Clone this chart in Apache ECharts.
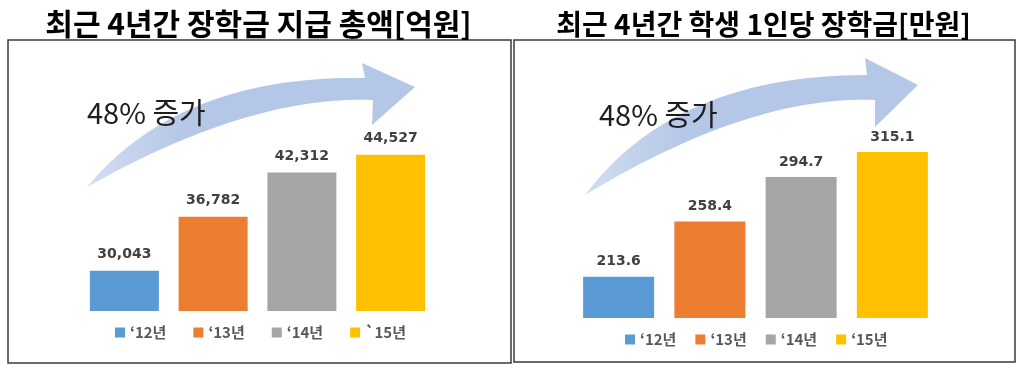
<!DOCTYPE html>
<html>
<head>
<meta charset="utf-8">
<script src="https://cdn.jsdelivr.net/npm/echarts@6/dist/echarts.min.js"></script>
<style>
html,body{margin:0;padding:0;background:#fff;}
#chart{width:1024px;height:371px;}
</style>
</head>
<body>
<div id="chart"></div>
<script>
// ---- data ----
const titles = ['최근 4년간 장학금 지급 총액[억원]', '최근 4년간 학생 1인당 장학금[만원]'];
const leftNames = ['‘12년', '‘13년', '‘14년', '`15년'];
const rightNames = ['‘12년', '‘13년', '‘14년', '‘15년'];
const totalAmount = [30043, 36782, 42312, 44527];   // 억원
const perStudent = [213.6, 258.4, 294.7, 315.1];     // 만원
const growthText = '48% 증가';

const colors = ['#5b9bd5', '#ed7d31', '#a5a5a5', '#ffc000'];

function makeSeries(names, values, gridIdx, barW, labelDist, fmt) {
  return names.map((n, i) => ({
    name: n,
    type: 'bar',
    xAxisIndex: gridIdx,
    yAxisIndex: gridIdx,
    barWidth: barW,
    barGap: '-100%',
    itemStyle: { color: colors[i] },
    data: values.map((v, j) => (j === i ? v : '-')),
    label: {
      show: true, position: 'top', distance: labelDist,
      fontFamily: 'DejaVu Sans', fontWeight: 'bold', fontSize: 14, color: '#404040',
      formatter: p => fmt(p.value)
    }
  }));
}

// decorative curved arrow outline (quadratic curves sampled into a polygon)
function quad(p0, c, p1, n) {
  const pts = [];
  for (let k = 0; k <= n; k++) {
    const t = k / n, u = 1 - t;
    pts.push([u * u * p0[0] + 2 * u * t * c[0] + t * t * p1[0], u * u * p0[1] + 2 * u * t * c[1] + t * t * p1[1]]);
  }
  return pts;
}
function arrowPoints(tail, upC, upEnd, barbTop, tip, barbBot, lowStart, lowC) {
  return [].concat(quad(tail, upC, upEnd, 30), [barbTop, tip, barbBot], quad(lowStart, lowC, tail, 30));
}

const chart = echarts.init(document.getElementById('chart'));
const arrowFill = {
  type: 'linear', x: 0, y: 0, x2: 1, y2: 0,
  colorStops: [{ offset: 0, color: 'rgba(180,199,231,0.6)' }, { offset: 0.3, color: '#b4c7e7' }, { offset: 1, color: '#b4c7e7' }]
};
const titleStyle = { fontFamily: 'Noto Sans CJK KR', fontWeight: 'bold', color: '#000' };
const legendText = { fontFamily: 'Noto Sans CJK KR', fontWeight: 'bold', fontSize: 15, color: '#595959' };
const growthStyle = { text: growthText, fontFamily: 'Noto Sans CJK KR', fontSize: 29, fill: '#1e1e1e', textVerticalAlign: 'middle' };
chart.setOption({
  animation: false,
  title: [
    { text: titles[0], left: 258.5, top: 9, padding: 0, textAlign: 'center',
      textStyle: Object.assign({ fontSize: 30 }, titleStyle) },
    { text: titles[1], left: 763.5, top: 10, padding: 0, textAlign: 'center',
      textStyle: Object.assign({ fontSize: 28 }, titleStyle) }
  ],
  legend: [
    { data: leftNames, left: 115, top: 325, padding: 0, itemWidth: 10, itemHeight: 10, itemGap: 27, icon: 'rect',
      textStyle: legendText },
    { data: rightNames, left: 625, top: 332, padding: 0, itemWidth: 10, itemHeight: 10, itemGap: 19, icon: 'rect',
      textStyle: legendText }
  ],
  grid: [
    { left: 80, width: 355, top: 111, bottom: 60 },
    { left: 573, width: 365, top: 109, bottom: 53 }
  ],
  xAxis: [
    { type: 'category', gridIndex: 0, data: leftNames, show: false },
    { type: 'category', gridIndex: 1, data: rightNames, show: false }
  ],
  yAxis: [
    { type: 'value', gridIndex: 0, min: 25000, max: 50000, show: false, splitLine: { show: false } },
    { type: 'value', gridIndex: 1, min: 180, max: 350, show: false, splitLine: { show: false } }
  ],
  series: [
    ...makeSeries(leftNames, totalAmount, 0, 69, 9, v => echarts.format.addCommas(v)),
    ...makeSeries(rightNames, perStudent, 1, 71, 8, v => v.toFixed(1))
  ],
  graphic: [
    { type: 'rect', z: 0, shape: { x: 8, y: 40, width: 503, height: 323 },
      style: { fill: 'none', stroke: '#3a3a3a', lineWidth: 1.5 } },
    { type: 'rect', z: 0, shape: { x: 514, y: 40, width: 501, height: 322 },
      style: { fill: 'none', stroke: '#3a3a3a', lineWidth: 1.5 } },
    { type: 'polygon', z: 1,
      shape: { points: arrowPoints([87, 187], [180, 75], [365, 78], [362, 63], [415, 87], [372, 125], [373, 100], [250, 95]) },
      style: { fill: arrowFill } },
    { type: 'polygon', z: 1,
      shape: { points: arrowPoints([585, 195], [675, 75], [867, 75], [865, 58], [918, 85], [875, 127], [875, 100], [750, 95]) },
      style: { fill: arrowFill } },
    { type: 'text', z: 5, x: 87, y: 113, style: growthStyle },
    { type: 'text', z: 5, x: 599, y: 115, style: growthStyle }
  ]
});
</script>
</body>
</html>
